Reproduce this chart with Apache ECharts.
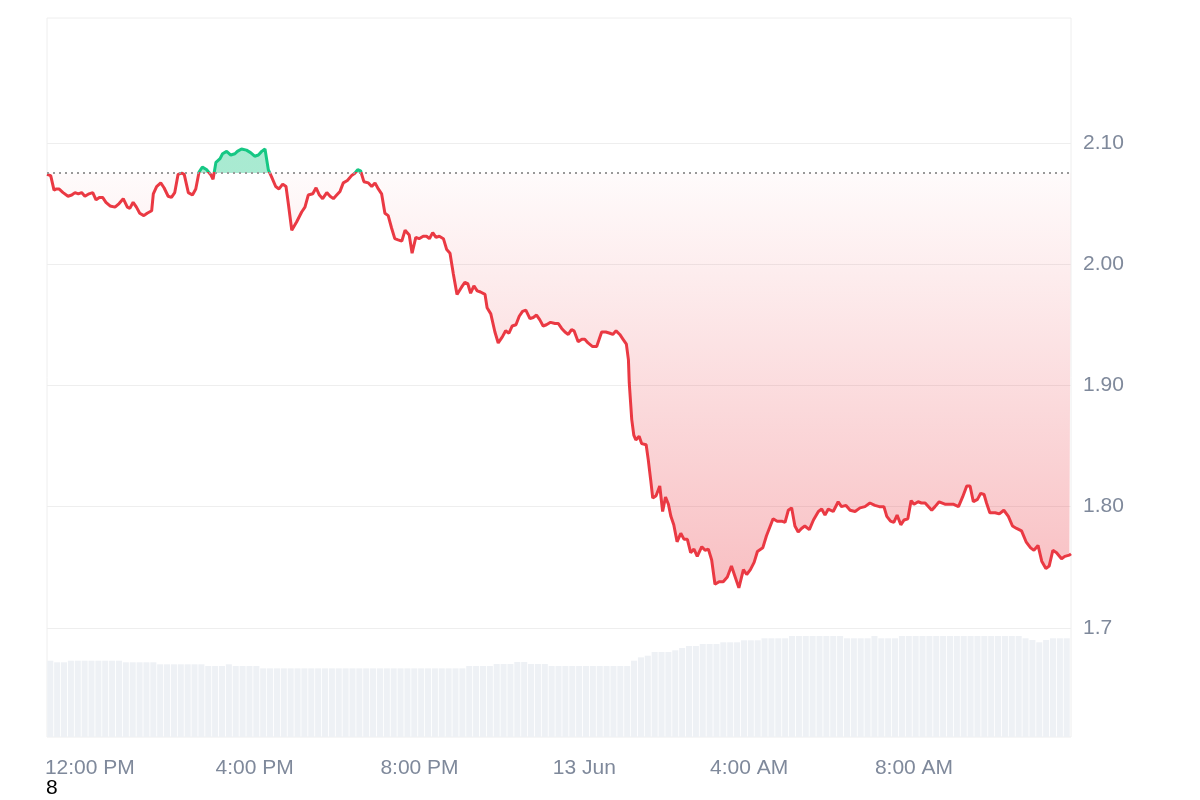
<!DOCTYPE html>
<html>
<head>
<meta charset="utf-8">
<script src="https://cdn.jsdelivr.net/npm/echarts@6/dist/echarts.min.js"></script>
<style>
html,body{margin:0;padding:0;background:#fff;}
#chart{width:1200px;height:800px;}
</style>
</head>
<body>
<div id="chart"></div>
<script>
// Hours measured from 12 Jun 00:00
const xMinHour = 10.96;
const xMaxHour = 35.81;
const xTickHours = [12, 16, 20, 24, 28, 32];
const xTickLabels = ["12:00 PM", "4:00 PM", "8:00 PM", "13 Jun", "4:00 AM", "8:00 AM"];

const yTickValues = [1.7, 1.8, 1.9, 2.0, 2.1];
const yTickLabels = ["1.7", "1.80", "1.90", "2.00", "2.10"];

const baselinePrice = 2.0752;

// [hour, price]
const priceSeries = [
[10.96,2.074],[11.05,2.073],[11.13,2.061],[11.19,2.062],[11.25,2.062],[11.35,2.059],[11.47,2.056],[11.56,2.057],[11.64,2.059],[11.72,2.058],
[11.80,2.059],[11.88,2.056],[11.98,2.058],[12.07,2.059],[12.15,2.053],[12.23,2.055],[12.31,2.055],[12.39,2.051],[12.49,2.048],[12.61,2.047],
[12.71,2.050],[12.81,2.054],[12.91,2.047],[12.97,2.046],[13.05,2.051],[13.13,2.047],[13.21,2.042],[13.31,2.040],[13.39,2.042],[13.50,2.044],
[13.54,2.058],[13.62,2.064],[13.72,2.067],[13.80,2.063],[13.90,2.056],[13.98,2.055],[14.06,2.059],[14.14,2.074],[14.23,2.075],[14.29,2.074],
[14.39,2.059],[14.49,2.057],[14.57,2.062],[14.65,2.076],[14.73,2.080],[14.83,2.078],[14.93,2.074],[14.99,2.070],[15.06,2.084],[15.16,2.087],
[15.22,2.091],[15.32,2.093],[15.42,2.090],[15.52,2.091],[15.58,2.093],[15.68,2.095],[15.80,2.094],[15.90,2.092],[16.00,2.089],[16.09,2.090],
[16.17,2.093],[16.25,2.095],[16.33,2.078],[16.41,2.072],[16.51,2.064],[16.59,2.062],[16.68,2.066],[16.76,2.064],[16.82,2.049],[16.90,2.028],
[17.02,2.035],[17.14,2.043],[17.22,2.047],[17.30,2.057],[17.41,2.058],[17.49,2.063],[17.57,2.057],[17.65,2.054],[17.75,2.059],[17.83,2.056],
[17.91,2.054],[17.99,2.057],[18.07,2.060],[18.15,2.067],[18.25,2.069],[18.35,2.073],[18.43,2.075],[18.50,2.078],[18.57,2.077],[18.65,2.068],
[18.76,2.067],[18.84,2.064],[18.92,2.067],[19.00,2.062],[19.08,2.058],[19.16,2.042],[19.24,2.040],[19.32,2.030],[19.40,2.021],[19.48,2.020],
[19.57,2.019],[19.65,2.028],[19.75,2.024],[19.82,2.009],[19.91,2.022],[19.99,2.021],[20.09,2.023],[20.17,2.023],[20.24,2.021],[20.32,2.026],
[20.40,2.022],[20.48,2.023],[20.58,2.021],[20.66,2.012],[20.74,2.009],[20.82,1.992],[20.91,1.975],[21.02,1.981],[21.10,1.985],[21.17,1.984],
[21.24,1.976],[21.32,1.982],[21.40,1.978],[21.48,1.977],[21.59,1.975],[21.64,1.964],[21.73,1.959],[21.83,1.944],[21.91,1.935],[22.01,1.940],
[22.09,1.945],[22.17,1.943],[22.25,1.949],[22.34,1.950],[22.42,1.957],[22.50,1.961],[22.58,1.962],[22.68,1.955],[22.76,1.956],[22.84,1.958],
[22.92,1.954],[23.00,1.949],[23.08,1.950],[23.18,1.952],[23.29,1.951],[23.37,1.951],[23.45,1.947],[23.53,1.944],[23.61,1.942],[23.69,1.946],
[23.75,1.945],[23.85,1.936],[23.94,1.938],[24.01,1.938],[24.09,1.935],[24.20,1.932],[24.30,1.932],[24.36,1.938],[24.42,1.944],[24.52,1.944],
[24.62,1.943],[24.69,1.942],[24.77,1.945],[24.86,1.942],[24.94,1.938],[25.02,1.934],[25.07,1.921],[25.09,1.902],[25.15,1.872],[25.20,1.859],
[25.25,1.855],[25.33,1.858],[25.39,1.852],[25.50,1.851],[25.55,1.839],[25.61,1.822],[25.66,1.807],[25.74,1.809],[25.83,1.817],[25.90,1.796],
[25.97,1.808],[26.04,1.802],[26.10,1.792],[26.17,1.785],[26.25,1.771],[26.34,1.778],[26.42,1.773],[26.50,1.773],[26.58,1.762],[26.66,1.765],
[26.74,1.759],[26.85,1.767],[26.93,1.764],[27.01,1.765],[27.09,1.756],[27.17,1.736],[27.27,1.738],[27.37,1.738],[27.47,1.742],[27.57,1.751],
[27.65,1.743],[27.75,1.733],[27.86,1.748],[27.94,1.744],[28.03,1.748],[28.12,1.754],[28.20,1.763],[28.33,1.766],[28.42,1.776],[28.50,1.783],
[28.58,1.790],[28.68,1.788],[28.79,1.788],[28.87,1.787],[28.95,1.797],[29.03,1.799],[29.11,1.784],[29.19,1.779],[29.27,1.782],[29.35,1.784],
[29.46,1.781],[29.56,1.789],[29.68,1.796],[29.76,1.798],[29.84,1.793],[29.92,1.798],[30.04,1.796],[30.16,1.804],[30.24,1.800],[30.35,1.801],
[30.45,1.797],[30.57,1.796],[30.69,1.799],[30.81,1.800],[30.93,1.803],[31.05,1.801],[31.16,1.800],[31.27,1.800],[31.34,1.792],[31.43,1.788],
[31.51,1.787],[31.59,1.793],[31.68,1.785],[31.76,1.789],[31.85,1.790],[31.93,1.805],[32.00,1.802],[32.10,1.804],[32.18,1.803],[32.27,1.803],
[32.43,1.797],[32.51,1.800],[32.61,1.804],[32.75,1.802],[32.87,1.802],[32.95,1.802],[33.08,1.800],[33.18,1.808],[33.28,1.817],[33.36,1.817],
[33.44,1.804],[33.54,1.806],[33.62,1.811],[33.70,1.810],[33.76,1.803],[33.84,1.795],[33.97,1.795],[34.07,1.794],[34.18,1.797],[34.29,1.792],
[34.39,1.784],[34.49,1.782],[34.61,1.780],[34.72,1.771],[34.83,1.766],[34.91,1.764],[35.01,1.768],[35.10,1.755],[35.20,1.749],[35.28,1.751],
[35.37,1.764],[35.46,1.762],[35.58,1.757],[35.66,1.759],[35.77,1.760],[35.81,1.761]
];

// volume bars, one per 10 minutes (relative units)
const volumeStartHour = 11.04;
const volumeStepHours = 1 / 6;
const volumeValues = [
10.61,10.39,10.39,10.61,10.61,10.61,10.61,10.61,10.61,10.61,
10.61,10.39,10.39,10.39,10.39,10.39,10.11,10.11,10.11,10.11,
10.11,10.11,10.11,9.87,9.87,9.87,10.11,9.87,9.87,9.87,
9.87,9.55,9.55,9.55,9.55,9.55,9.55,9.55,9.55,9.55,
9.55,9.55,9.55,9.55,9.55,9.55,9.55,9.55,9.55,9.55,
9.55,9.55,9.55,9.55,9.55,9.55,9.55,9.55,9.55,9.55,
9.55,9.87,9.87,9.87,9.87,10.15,10.15,10.15,10.43,10.43,
10.15,10.15,10.15,9.87,9.87,9.87,9.87,9.87,9.87,9.87,
9.87,9.87,9.87,9.87,9.87,10.61,11.08,11.31,11.82,11.82,
11.82,12.06,12.38,12.66,12.66,12.93,12.93,12.93,13.17,13.17,
13.17,13.45,13.45,13.45,13.73,13.73,13.73,13.73,14.05,14.05,
14.05,14.05,14.05,14.05,14.05,14.05,13.73,13.73,13.73,13.73,
14.05,13.73,13.73,13.73,14.05,14.05,14.05,14.05,14.05,14.05,
14.05,14.05,14.05,14.05,14.05,14.05,14.05,14.05,14.05,14.05,
14.05,14.05,13.73,13.49,13.17,13.49,13.73,13.73,13.73
];

const upColor = '#16c784';
const downColor = '#ea3943';
const labelColor = '#7f899b';
const gridColor = '#eeeeee';
const lineWidth = 3;

const volumeData = volumeValues.map((v, i) => [volumeStartHour + i * volumeStepHours, v]);

const prices = priceSeries.map(p => p[1]);
const pMax = Math.max(...prices);
const pMin = Math.min(...prices);

const chart = echarts.init(document.getElementById('chart'), null, { renderer: 'canvas' });
const fontFamily = '"Liberation Sans", Arial, Helvetica, sans-serif';

function buildOption(lineOffset, areaOffset) {
  const lineGradient = new echarts.graphic.LinearGradient(0, 0, 0, 1, [
    { offset: 0, color: upColor },
    { offset: lineOffset, color: upColor },
    { offset: lineOffset, color: downColor },
    { offset: 1, color: downColor }
  ]);
  const areaGradient = new echarts.graphic.LinearGradient(0, 0, 0, 1, [
    { offset: 0, color: 'rgba(22,199,132,0.37)' },
    { offset: areaOffset, color: 'rgba(22,199,132,0.37)' },
    { offset: areaOffset, color: 'rgba(234,57,67,0.02)' },
    { offset: 1, color: 'rgba(234,57,67,0.32)' }
  ]);
  return {
    animation: false,
    backgroundColor: '#ffffff',
    grid: {
      left: 47, right: 129, top: 18, bottom: 63,
      show: true, borderColor: gridColor, borderWidth: 1, backgroundColor: 'transparent'
    },
    xAxis: {
      type: 'value',
      min: xMinHour,
      max: xMaxHour,
      axisLine: { show: false },
      axisTick: { show: false, customValues: xTickHours },
      splitLine: { show: false },
      axisLabel: {
        customValues: xTickHours,
        margin: 21,
        color: labelColor,
        fontSize: 21,
        fontFamily: fontFamily,
        formatter: function (val) {
          const i = xTickHours.findIndex(t => Math.abs(t - val) < 1e-6);
          return i >= 0 ? xTickLabels[i] : '';
        }
      }
    },
    yAxis: [
      {
        type: 'value',
        position: 'right',
        min: 1.61,
        max: 2.203,
        axisLine: { show: false },
        axisTick: { show: false, customValues: yTickValues },
        splitLine: { show: true, lineStyle: { color: gridColor, width: 1 } },
        axisLabel: {
          customValues: yTickValues,
          margin: 12,
          color: labelColor,
          fontSize: 21,
          fontFamily: fontFamily,
          formatter: function (val) {
            const i = yTickValues.findIndex(t => Math.abs(t - val) < 1e-6);
            return i >= 0 ? yTickLabels[i] : '';
          }
        }
      },
      {
        type: 'value',
        min: 0,
        max: 100,
        show: false,
        splitLine: { show: false }
      }
    ],
    series: [
      {
        name: 'Volume',
        type: 'bar',
        xAxisIndex: 0,
        yAxisIndex: 1,
        data: volumeData,
        barWidth: '88%',
        itemStyle: { color: '#eef1f5' },
        silent: true,
        z: 1
      },
      {
        name: 'Price',
        type: 'line',
        xAxisIndex: 0,
        yAxisIndex: 0,
        data: priceSeries,
        showSymbol: false,
        symbol: 'none',
        lineStyle: { width: lineWidth, color: lineGradient },
        areaStyle: { origin: baselinePrice, color: areaGradient, opacity: 1 },
        z: 3
      },
      {
        name: 'Baseline',
        type: 'line',
        xAxisIndex: 0,
        yAxisIndex: 0,
        data: [[xMinHour, baselinePrice], [xMaxHour, baselinePrice]],
        showSymbol: false,
        symbol: 'none',
        silent: true,
        lineStyle: { color: '#999999', type: [2, 4], width: 2 },
        z: 4
      }
    ],
    graphic: [
      {
        type: 'text',
        left: 46,
        top: 778,
        style: { text: '8', fill: '#000000', fontSize: 21, fontFamily: fontFamily }
      }
    ]
  };
}

// first pass to get pixel scale, then set gradient stops at the baseline price
chart.setOption(buildOption(0.05, 0.05));
const yTop = chart.convertToPixel({ yAxisIndex: 0 }, pMax);
const yBot = chart.convertToPixel({ yAxisIndex: 0 }, pMin);
const yBase = chart.convertToPixel({ yAxisIndex: 0 }, baselinePrice);
const areaOffset = Math.max(0, Math.min(1, (yBase - yTop) / (yBot - yTop)));
const half = lineWidth / 2;
const lineOffset = Math.max(0, Math.min(1, (yBase - (yTop - half)) / ((yBot + half) - (yTop - half))));
chart.setOption(buildOption(lineOffset, areaOffset), true);
</script>
</body>
</html>
